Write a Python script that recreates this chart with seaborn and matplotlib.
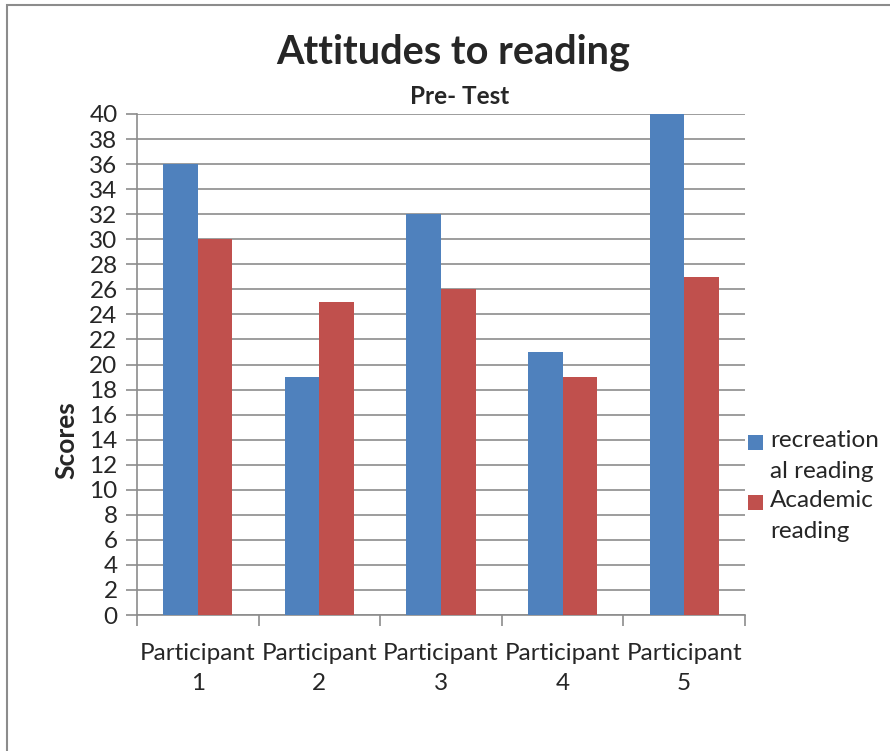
import pandas as pd
import matplotlib.pyplot as plt
import seaborn as sns
from matplotlib.patches import Rectangle

participants = ["Participant\n1", "Participant\n2", "Participant\n3", "Participant\n4", "Participant\n5"]
recreational = [36, 19, 32, 21, 40]
academic = [30, 25, 26, 19, 27]
series_names = ["recreation\nal reading", "Academic\nreading"]
colors = ["#4F81BD", "#C0504D"]

df = pd.DataFrame({
    "participant": participants * 2,
    "score": recreational + academic,
    "series": [series_names[0]] * 5 + [series_names[1]] * 5,
})

sns.set_style("white")
plt.rcParams["font.family"] = ["Lato", "DejaVu Sans"]

W, H = 890, 751
fig = plt.figure(figsize=(8.9, 7.51), dpi=100)
ax = fig.add_axes([137 / W, 1 - 615 / H, 608 / W, 501 / H])

sns.barplot(data=df, x="participant", y="score", hue="series", palette=colors,
            width=0.57, gap=0, saturation=1, ax=ax, legend=False, zorder=3,
            linewidth=0)

ax.set_ylim(0, 40)
ax.set_xlim(-0.5, 4.5)
ax.set_yticks(range(0, 41, 2))
ax.yaxis.grid(True, color="#8c8c8c", linewidth=1.2, zorder=0)
ax.set_axisbelow(True)
for s in ["top", "right"]:
    ax.spines[s].set_visible(False)
for s in ["left", "bottom"]:
    ax.spines[s].set_color("#8c8c8c")
    ax.spines[s].set_linewidth(1.2)

ax.set_xticks(range(5))
ax.set_xticklabels(participants, fontsize=17.5, linespacing=1.55)
ax.tick_params(axis="x", length=0, pad=20)
ax.set_xticks([i - 0.5 for i in range(6)], minor=True)
ax.tick_params(axis="x", which="minor", length=8, width=1.2, color="#8c8c8c", bottom=True)
ax.tick_params(axis="y", length=8, width=1.2, color="#8c8c8c", labelsize=17.5, pad=6, left=True)

ax.set_xlabel("")
ax.set_ylabel("Scores", fontsize=19, fontweight="bold", labelpad=8)
ax.yaxis.set_label_coords(-0.097, 0.35)

fig.text(453 / W, 1 - 52 / H, "Attitudes to reading", ha="center", va="center",
         fontsize=28.5, fontweight="bold")
fig.text(460 / W, 1 - 97 / H, "Pre- Test", ha="center", va="center",
         fontsize=17.5, fontweight="bold")

# legend drawn by hand to get Excel-like spacing
legend_tops = [430, 490]
for name, c, top in zip(series_names, colors, legend_tops):
    fig.patches.append(Rectangle((748 / W, 1 - (top + 20) / H), 15 / W, 15 / H,
                                 transform=fig.transFigure, facecolor=c, edgecolor="none"))
    fig.text(770 / W, 1 - top / H, name, ha="left", va="top", fontsize=17.5,
             linespacing=1.6)

fig.patches.append(Rectangle((7 / W, -0.1), 1.2, 1.1 - 5 / H, transform=fig.transFigure,
                             fill=False, edgecolor="#8c8c8c", linewidth=1.5))

fig.savefig("out.png", dpi=100)
